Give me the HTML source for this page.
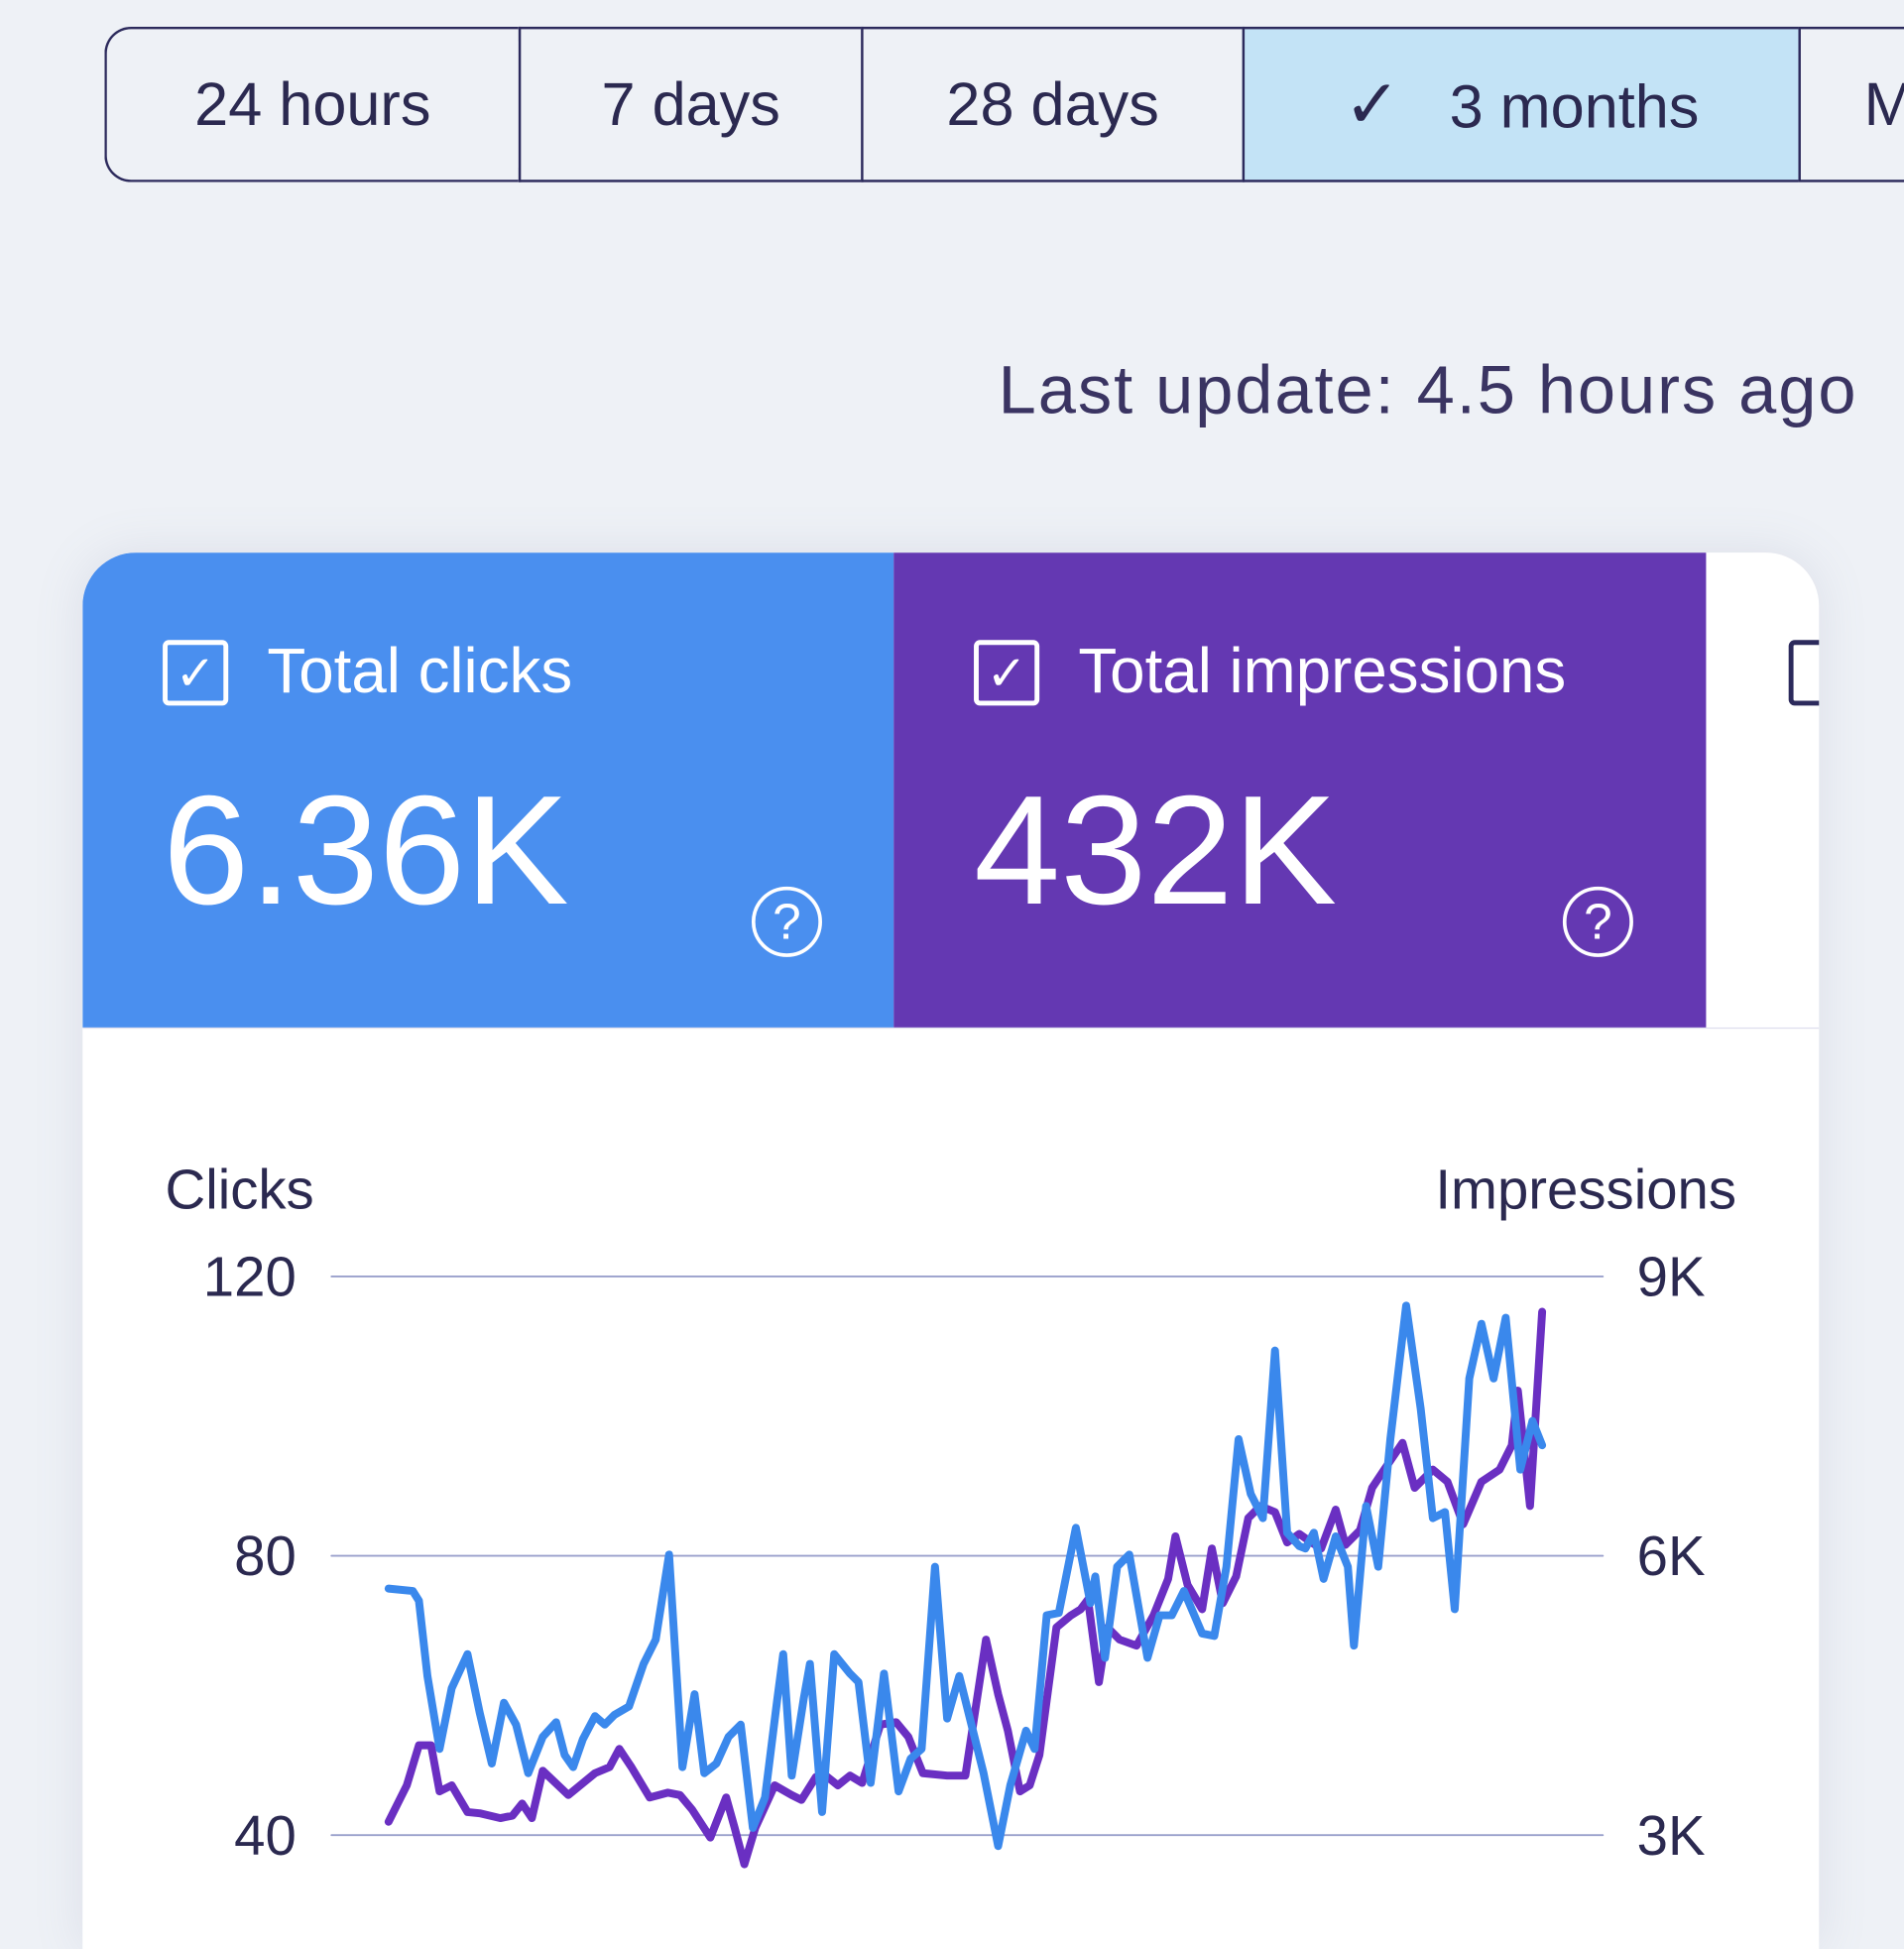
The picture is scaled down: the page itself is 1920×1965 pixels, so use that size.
<!DOCTYPE html>
<html><head><meta charset="utf-8"><style>
html,body{margin:0;padding:0;width:1920px;height:1920px;overflow:hidden;background:#eef1f6;}
#s{position:absolute;left:0;top:0;width:1568px;height:1568px;transform:scale(1.22449);transform-origin:0 0;font-family:"Liberation Sans",sans-serif;color:#2b2950;}
.b{position:absolute;top:22px;height:128px;border:2px solid #2c2a5c;box-sizing:border-box;font-size:50px;line-height:124px;text-align:center;background:#eef1f6;}
.t{position:absolute;}
</style></head><body><div id="s">
<div class="b" style="left:86px;width:341px;border-radius:22px 0 0 22px;border-right:0;">24 hours</div>
<div class="b" style="left:427px;width:282px;border-right:0;">7 days</div>
<div class="b" style="left:709px;width:314px;border-right:0;">28 days</div>
<div class="b" style="left:1023px;width:458px;border-right:0;background:#c3e3f6;"><span style="font-size:56px;margin-right:40px;">&#10003;</span>3 months</div>
<div class="b" style="left:1481px;width:120px;text-align:left;padding-left:52px;">M</div>
<div class="t" style="right:38px;top:288px;font-size:56px;letter-spacing:1.6px;color:#3a3462;">Last update: 4.5 hours ago</div>
<div class="t" style="left:68px;top:455px;width:1430px;height:1150px;background:#fff;border-radius:44px 44px 0 0;overflow:hidden;box-shadow:0 0 40px rgba(120,130,160,0.15);">
 <div class="t" style="left:0;top:0;width:668px;height:391px;background:#4a8fef;color:#fff;">
  <div class="t" style="left:66px;top:72px;width:54px;height:54px;border:4px solid #fff;border-radius:5px;box-sizing:border-box;font-size:40px;line-height:48px;text-align:center;">&#10003;</div>
  <div class="t" style="left:152px;top:68px;font-size:52px;">Total clicks</div>
  <div class="t" style="left:66px;top:172px;font-size:128px;">6.36K</div>
  <div class="t" style="left:551px;top:275px;width:58px;height:58px;border:3px solid #fff;border-radius:50%;box-sizing:border-box;font-size:42px;line-height:52px;text-align:center;">?</div>
 </div>
 <div class="t" style="left:668px;top:0;width:669px;height:391px;background:#6438b2;color:#fff;">
  <div class="t" style="left:66px;top:72px;width:54px;height:54px;border:4px solid #fff;border-radius:5px;box-sizing:border-box;font-size:40px;line-height:48px;text-align:center;">&#10003;</div>
  <div class="t" style="left:152px;top:68px;font-size:52px;">Total impressions</div>
  <div class="t" style="left:66px;top:172px;font-size:128px;">432K</div>
  <div class="t" style="left:551px;top:275px;width:58px;height:58px;border:3px solid #fff;border-radius:50%;box-sizing:border-box;font-size:42px;line-height:52px;text-align:center;">?</div>
 </div>
 <div class="t" style="left:1405px;top:72px;width:50px;height:54px;border:4px solid #2c2a5c;border-radius:5px;box-sizing:border-box;"></div>
 <div class="t" style="left:0;top:391px;width:1430px;height:1px;background:#dde;"></div>
</div>
<div class="t" style="left:136px;top:952px;font-size:46px;">Clicks</div>
<div class="t" style="right:138px;top:952px;font-size:46px;">Impressions</div>
<div class="t" style="right:1324px;top:1024px;font-size:46px;">120</div>
<div class="t" style="right:1324px;top:1254px;font-size:46px;">80</div>
<div class="t" style="right:1324px;top:1484px;font-size:46px;">40</div>
<div class="t" style="left:1348px;top:1024px;font-size:46px;">9K</div>
<div class="t" style="left:1348px;top:1254px;font-size:46px;">6K</div>
<div class="t" style="left:1348px;top:1484px;font-size:46px;">3K</div>
<svg class="t" style="left:0;top:0" width="1568" height="1568" fill="none" stroke-linejoin="round" stroke-linecap="round">
<g stroke="#9aa0cc" stroke-width="1.5"><line x1="273" y1="1051" x2="1320" y2="1051"/><line x1="273" y1="1281" x2="1320" y2="1281"/><line x1="273" y1="1511" x2="1320" y2="1511"/></g>
<polyline stroke="#6a2fc2" stroke-width="6.5" points="320,1500 335,1470 345,1437 355,1437 362,1475 372,1470 385,1492 395,1493 412,1497 422,1495 430,1485 438,1497 447,1458 468,1478 490,1460 502,1455 510,1440 520,1455 535,1480 550,1476 560,1478 570,1490 585,1513 598,1480 605,1505 613,1535 622,1505 638,1470 652,1478 660,1482 672,1463 680,1462 690,1470 700,1462 710,1468 725,1420 738,1418 748,1430 760,1460 780,1462 795,1462 812,1350 822,1395 830,1425 840,1475 848,1470 856,1445 870,1340 882,1330 890,1325 896,1317 905,1385 912,1340 922,1350 936,1355 950,1330 962,1300 968,1265 978,1305 990,1325 998,1275 1007,1320 1018,1298 1028,1250 1038,1240 1050,1245 1060,1270 1070,1263 1080,1270 1088,1275 1100,1243 1108,1272 1120,1260 1130,1225 1140,1210 1155,1188 1165,1225 1180,1210 1192,1220 1205,1255 1220,1220 1235,1210 1245,1190 1250,1145 1260,1240 1270,1080"/>
<polyline stroke="#3a88ec" stroke-width="6.5" points="320,1308 340,1310 345,1318 352,1380 362,1440 372,1390 385,1362 395,1410 405,1452 415,1402 425,1420 435,1460 447,1430 458,1418 465,1445 472,1455 480,1432 490,1413 498,1420 506,1412 518,1405 530,1370 540,1350 551,1280 562,1455 572,1395 580,1460 590,1452 600,1430 610,1420 620,1505 630,1480 640,1400 645,1362 652,1462 662,1398 667,1370 677,1492 687,1362 700,1378 707,1385 717,1468 728,1378 740,1475 750,1448 759,1440 770,1290 780,1415 790,1380 800,1420 810,1460 822,1520 832,1470 845,1425 852,1440 862,1330 872,1328 886,1258 898,1320 902,1298 910,1365 920,1290 930,1280 945,1365 955,1330 965,1330 975,1310 990,1345 1000,1347 1010,1290 1020,1185 1030,1230 1040,1250 1050,1112 1060,1262 1070,1273 1075,1275 1082,1262 1090,1300 1100,1265 1110,1290 1115,1355 1125,1240 1135,1290 1145,1185 1158,1075 1170,1160 1180,1250 1190,1245 1198,1325 1210,1135 1220,1090 1230,1135 1240,1085 1252,1210 1262,1170 1270,1190"/>
</svg>
</div></body></html>
